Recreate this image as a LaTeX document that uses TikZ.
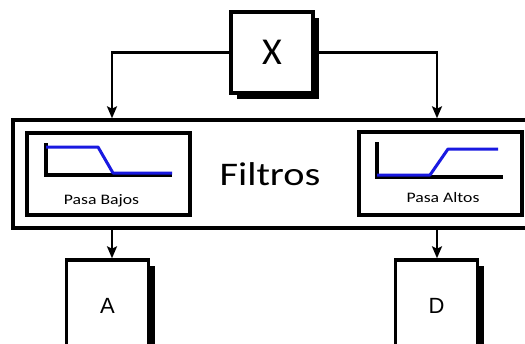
\documentclass[tikz,border=0pt]{standalone}
\usepackage{fontspec}
\setmainfont{Carlito}
\newfontfamily\calibri[FakeStretch=1.22]{Carlito}
\newfontfamily\arial{Liberation Sans}
\usetikzlibrary{arrows.meta,shadows,calc}
\definecolor{azul}{RGB}{25,25,225}
\tikzset{
	block/.style={
		rectangle, draw, line width=3.4pt, fill=white,
		minimum width=82pt, minimum height=81pt,
		drop shadow={shadow xshift=6pt, shadow yshift=-6pt, fill=black, opacity=1},
	},
	frame/.style={
		rectangle, draw, line width=3.4pt, fill=white,
	},
	line/.style={
		draw, line width=2.3pt, -{Stealth[length=12pt,width=10pt,inset=2.5pt]},
	},
	axis/.style={line width=3.4pt},
	curve/.style={azul, line width=3pt, line join=round},
}

\begin{document}
\begin{tikzpicture}[x=1pt, y=-1pt]
		\clip (0,0) rectangle (525,343);
		\fill[white] (0,0) rectangle (525,343);
		
		\node [block, font=\fontsize{38}{40}\selectfont] (x) at (272,52.5) {X};
		\node [frame, minimum width=514pt, minimum height=108pt, font=\calibri\fontsize{33}{36}\selectfont] (filt) at (270,174) {Filtros};
		\node [frame, minimum width=163pt, minimum height=82pt] (pb) at (108.5,174) {};
		\node [frame, minimum width=163pt, minimum height=83pt] (pa) at (440.5,173.5) {};
		\node [anchor=base, font=\calibri\fontsize{14.5}{16}\selectfont] (pbt) at ($(pb.south)+(-7,-12)$) {Pasa Bajos};
		\node [anchor=base, font=\calibri\fontsize{14.5}{16}\selectfont] (pat) at ($(pa.south)+(2.5,-14)$) {Pasa Altos};
		\node [block, minimum height=92pt, font=\arial\fontsize{22}{24}\selectfont] (a) at (107.5,306) {A};
		\node [block, minimum height=92pt, font=\arial\fontsize{22}{24}\selectfont] (d) at (436.5,306) {D};
		
		% curvas de los filtros
		\begin{scope}[shift={(pb.center)}]
			\draw[axis] (-62.5,-31) -- (-62.5,1) -- (63.5,1);
			\draw[curve] (-62.5,-27) -- (-10.5,-27) -- (4.5,-1) -- (63.5,-1);
		\end{scope}
		\begin{scope}[shift={(pa.center)}]
			\draw[axis] (-63.5,-31.5) -- (-63.5,3.5) -- (62.5,3.5);
			\draw[curve] (-63.5,1.5) -- (-10.5,1.5) -- (7.5,-24.5) -- (57.5,-24.5);
		\end{scope}
		
		\coordinate (ci) at (112,0);
		\coordinate (cd) at (437,0);
		\path [line] (x.west) -| (filt.north -| ci);
		\path [line] (x.east) -| (filt.north -| cd);
		\path [line] (filt.south -| ci) -- (a.north -| ci);
		\path [line] (filt.south -| cd) -- (d.north -| cd);
\end{tikzpicture}
\end{document}
